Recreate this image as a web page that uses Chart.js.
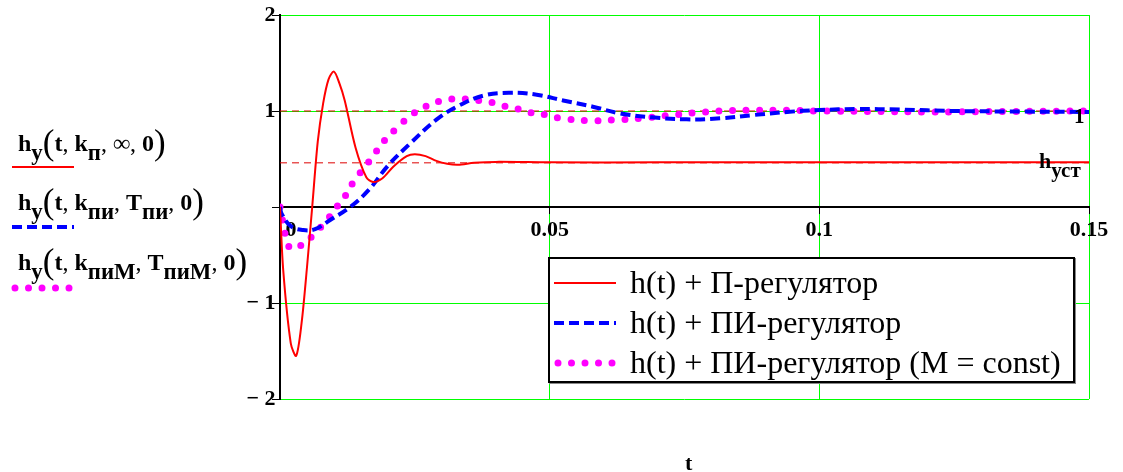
<!DOCTYPE html>
<html>
<head>
<meta charset="utf-8">
<script src="https://cdn.jsdelivr.net/npm/chart.js@4/dist/chart.umd.min.js"></script>
<style>
  html, body { margin: 0; padding: 0; background: #fff; }
  #wrap { position: relative; width: 1123px; height: 472px; overflow: hidden; }
  #chart { position: absolute; left: 0; top: 0; }
  .txt { position: absolute; font-family: 'Liberation Serif', 'Times New Roman', serif; color: #000; white-space: nowrap; line-height: 1; }
  .b { font-weight: bold; }
  .expr { font-size: 24px; font-weight: bold; }
  .expr sub { font-size: 0.95em; vertical-align: -0.4em; line-height: 0; }
  .expr .par { font-size: 35px; font-weight: normal; vertical-align: -0.1em; }
  .expr .cm { font-weight: normal; }
  #legend { position: absolute; left: 548px; top: 257px; width: 523px; height: 122px; border: 2px solid #000; background: #fff; box-shadow: 1px 1px 0 #888; }
  #legend .row { position: absolute; left: 4px; height: 40px; font-family: 'Liberation Serif', serif; font-size: 32px; }
  #legend .row svg { position: absolute; left: 0; top: 17px; }
  #legend .row span { position: absolute; left: 76px; top: 3px; white-space: nowrap; }
</style>
</head>
<body>
<div id="wrap">
  <canvas id="chart" width="1123" height="472"></canvas>

  <!-- trace labels on the left (Mathcad style) -->
  <div class="txt expr" style="left:18px; top:125px;">h<sub>у</sub><span class="par">(</span>t<span class="cm">,</span> k<sub>п</sub><span class="cm">,</span> ∞<span class="cm">,</span> 0<span class="par">)</span></div>
  <div class="txt expr" style="left:18px; top:184px;">h<sub>у</sub><span class="par">(</span>t<span class="cm">,</span> k<sub>пи</sub><span class="cm">,</span> T<sub>пи</sub><span class="cm">,</span> 0<span class="par">)</span></div>
  <div class="txt expr" style="left:18px; top:244px;">h<sub>у</sub><span class="par">(</span>t<span class="cm">,</span> k<sub>пиМ</sub><span class="cm">,</span> T<sub>пиМ</sub><span class="cm">,</span> 0<span class="par">)</span></div>
  <svg id="traceSamples" style="position:absolute; left:0; top:0;" width="90" height="300"></svg>

  <!-- marker labels at the right end -->
  <div class="txt b" style="left:1074px; top:106px; font-size:21px;">1</div>
  <div class="txt b" style="left:1039px; top:150px; font-size:22px;">h<sub style="font-size:21px; vertical-align:-0.45em; line-height:0;">уст</sub></div>

  <!-- axis title -->
  <div class="txt b" style="left:685px; top:452px; font-size:22px;">t</div>

  <div id="legend"></div>
</div>

<script>
// h(t) with P-regulator
const tP = [0, 0.0006, 0.002, 0.003, 0.004, 0.005, 0.006, 0.007, 0.008, 0.009, 0.010, 0.011, 0.012,
            0.014, 0.016, 0.0173, 0.019, 0.021, 0.0235, 0.025, 0.027, 0.029, 0.031, 0.033, 0.036,
            0.04, 0.05, 0.07, 0.1, 0.15];
const hP = [0, -0.66, -1.42, -1.55, -1.21, -0.63, 0.02, 0.68, 1.08, 1.33, 1.41, 1.29, 1.11,
            0.62, 0.31, 0.26, 0.30, 0.42, 0.53, 0.55, 0.53, 0.48, 0.45, 0.44, 0.46,
            0.47, 0.465, 0.465, 0.465, 0.465];

// h(t) with PI-regulator
const tPI = [0, 0.0003, 0.002, 0.0043, 0.0065, 0.0093, 0.013, 0.0165, 0.02, 0.0241, 0.029, 0.0328,
             0.0377, 0.0427, 0.0476, 0.0525, 0.058, 0.063, 0.069, 0.0754, 0.0816, 0.0878, 0.094,
             0.1, 0.107, 0.115, 0.125, 0.135, 0.15];
const hPI = [0, -0.07, -0.2, -0.24, -0.23, -0.135, 0.0, 0.18, 0.43, 0.66, 0.91, 1.045,
             1.16, 1.19, 1.17, 1.11, 1.045, 0.976, 0.934, 0.913, 0.924, 0.958, 0.99,
             1.01, 1.02, 1.015, 1.0, 0.995, 0.99];

// h(t) with PI-regulator, M = const
const tPIM = [0, 0.0005, 0.001, 0.002, 0.0043, 0.0065, 0.0087, 0.0105, 0.0124, 0.0138, 0.0158, 0.0176,
              0.0195, 0.022, 0.0244, 0.0269, 0.0294, 0.0318, 0.0343, 0.0368, 0.0393, 0.0417, 0.0442,
              0.047, 0.0495, 0.052, 0.0569, 0.0618, 0.0668, 0.0717, 0.0766, 0.0816, 0.0865, 0.094,
              0.1, 0.11, 0.12, 0.135, 0.15];
const hPIM = [0, -0.15, -0.29, -0.43, -0.385, -0.27, -0.135, 0.0, 0.14, 0.28, 0.42, 0.56,
              0.70, 0.84, 0.96, 1.045, 1.10, 1.125, 1.125, 1.11, 1.09, 1.05, 1.02,
              0.976, 0.958, 0.924, 0.9, 0.906, 0.924, 0.951, 0.98, 1.0, 1.007, 1.007,
              1.0, 0.995, 0.99, 0.995, 1.0];

// dashed reference levels: 1 and h_уст
const refLevels = [1, 0.46];

const seriesLabels = ['h(t) + П-регулятор', 'h(t) + ПИ-регулятор', 'h(t) + ПИ-регулятор (M = const)'];

const xTicks = [0, 0.05, 0.1, 0.15];
const xTickLabels = ['    0', '0.05', '0.1', '0.15'];
const yTicks = [-2, -1, 0, 1, 2];
// thin space at the end keeps the label off the axis line
const yTickLabels = ['− 2\u2009', '− 1\u2009', '', '1\u2009', '2\u2009'];

const GREEN = '#00ff00';
const toPoints = (ts, hs) => ts.map((t, i) => ({ x: t, y: hs[i] }));

const refSets = refLevels.map(v => ({
    label: 'ref' + v,
    data: [{ x: xTicks[0], y: v }, { x: xTicks[xTicks.length - 1], y: v }],
    borderColor: '#dd0000',
    borderWidth: 1,
    borderDash: [7, 5],
    pointRadius: 0
}));

const curveSets = [
    {
        label: seriesLabels[0],
        data: toPoints(tP, hP),
        borderColor: '#ff0000',
        borderWidth: 2,
        borderDash: [],
        tension: 0.3
    },
    {
        label: seriesLabels[1],
        data: toPoints(tPI, hPI),
        borderColor: '#0000ff',
        borderWidth: 4,
        borderDash: [10, 5],
        tension: 0.4
    },
    {
        label: seriesLabels[2],
        data: toPoints(tPIM, hPIM),
        borderColor: '#ff00ff',
        borderWidth: 7,
        borderDash: [0, 13.5],
        borderCapStyle: 'round',
        tension: 0.4
    }
];
curveSets.forEach(ds => { ds.pointRadius = 0; ds.fill = false; });

const tickFont = { family: "'Liberation Serif', serif", size: 22, weight: 'bold', lineHeight: 1 };

// axes cross at the origin; the 0 grid lines sit under the black axis lines
const chart = new Chart(document.getElementById('chart').getContext('2d'), {
    type: 'line',
    data: { datasets: [...curveSets, ...refSets] },
    options: {
        responsive: false,
        animation: false,
        layout: { padding: { left: 280, right: 34, top: 15, bottom: 73 } },
        plugins: { legend: { display: false }, tooltip: { enabled: false } },
        scales: {
            x: {
                type: 'linear',
                position: { y: 0 },
                min: xTicks[0],
                max: xTicks[xTicks.length - 1],
                afterBuildTicks: s => { s.ticks = xTicks.map(v => ({ value: v })); },
                ticks: {
                    color: '#000',
                    font: tickFont,
                    padding: 6,
                    maxRotation: 0,
                    autoSkip: false,
                    callback: (v, i) => xTickLabels[i]
                },
                grid: {
                    color: GREEN,
                    lineWidth: 1,
                    tickColor: '#000',
                    tickLength: 6
                },
                border: { color: '#000', width: 2 }
            },
            y: {
                type: 'linear',
                position: { x: 0 },
                min: yTicks[0],
                max: yTicks[yTicks.length - 1],
                afterBuildTicks: s => { s.ticks = yTicks.map(v => ({ value: v })); },
                ticks: {
                    color: '#000',
                    font: tickFont,
                    padding: 0,
                    autoSkip: false,
                    callback: (v, i) => yTickLabels[i]
                },
                grid: {
                    color: GREEN,
                    lineWidth: 1,
                    tickColor: '#000',
                    tickLength: 7
                },
                border: { color: '#000', width: 2 }
            }
        }
    }
});

// line sample drawn from a dataset's own style
function sampleSvg(ds, len, w, h) {
    const dash = (ds.borderDash || []).join(' ');
    const cap = ds.borderCapStyle || 'butt';
    return `<svg width="${w}" height="${h}"><line x1="${cap === 'round' ? 4 : 0}" y1="${h / 2}" x2="${len}" y2="${h / 2}"
        stroke="${ds.borderColor}" stroke-width="${ds.borderWidth}" stroke-dasharray="${dash}"
        stroke-linecap="${cap}"/></svg>`;
}

// boxed legend inside the plot
const legendEl = document.getElementById('legend');
curveSets.forEach((ds, i) => {
    const row = document.createElement('div');
    row.className = 'row';
    row.style.top = (i * 40 + 2) + 'px';
    row.innerHTML = sampleSvg(ds, 62, 70, 10) + `<span>${ds.label}</span>`;
    legendEl.appendChild(row);
});

// samples under the Mathcad trace expressions
const sampleY = [167, 227, 288];
const trace = document.getElementById('traceSamples');
trace.innerHTML = curveSets.map((ds, i) => {
    const dash = (ds.borderDash || []).join(' ');
    const cap = ds.borderCapStyle || 'butt';
    return `<line x1="${cap === 'round' ? 15 : 12}" y1="${sampleY[i]}" x2="74" y2="${sampleY[i]}"
        stroke="${ds.borderColor}" stroke-width="${ds.borderWidth}"
        stroke-dasharray="${dash}" stroke-linecap="${cap}"/>`;
}).join('');
</script>
</body>
</html>
